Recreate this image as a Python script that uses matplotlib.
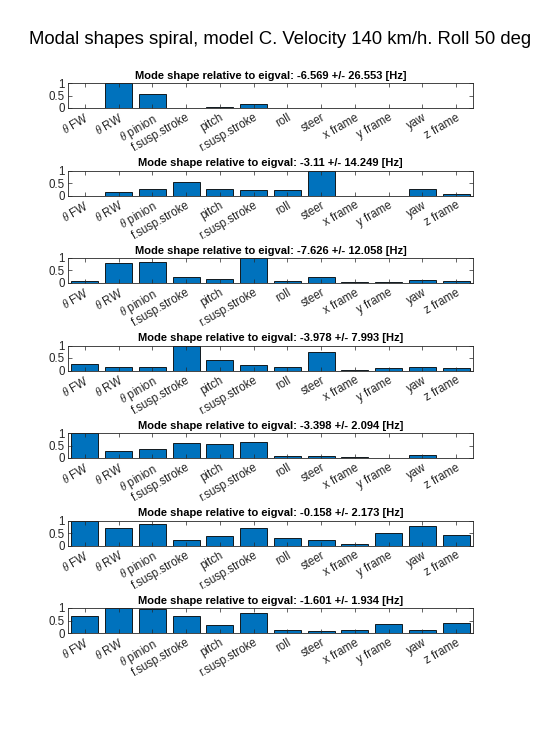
import numpy as np
import matplotlib
matplotlib.use("Agg")
import matplotlib.pyplot as plt

plt.rcParams['font.family'] = ['Liberation Sans', 'DejaVu Sans']
plt.rcParams['mathtext.fontset'] = 'custom'
plt.rcParams['mathtext.it'] = 'Liberation Serif:italic'

etiketter = [r'$\theta$ FW', r'$\theta$ RW', r'$\theta$ pinion', 'f.susp.stroke', 'pitch',
             'r.susp.stroke', 'roll', 'steer', 'x frame', 'y frame', 'yaw', 'z frame']

# egenvarden (real, imag) per mod
eig_re = ['-6.569', '-3.11', '-7.626', '-3.978', '-3.398', '-0.158', '-1.601']
eig_im = ['26.553', '14.249', '12.058', '7.993', '2.094', '2.173', '1.934']

mod1 = [0, 1, 0.56, 0, 0.04, 0.18, 0, 0, 0, 0, 0, 0]
mod2 = [0, 0.15, 0.28, 0.56, 0.28, 0.21, 0.24, 1, 0, 0, 0.28, 0.08]
mod3 = [0.08, 0.79, 0.82, 0.22, 0.15, 1, 0.08, 0.22, 0.04, 0.04, 0.12, 0.08]
mod4 = [0.25, 0.14, 0.14, 1, 0.41, 0.22, 0.15, 0.75, 0.04, 0.11, 0.15, 0.11]
mod5 = [1, 0.29, 0.34, 0.6, 0.58, 0.64, 0.08, 0.08, 0.04, 0, 0.12, 0]
mod6 = [1, 0.71, 0.85, 0.23, 0.37, 0.71, 0.31, 0.23, 0.05, 0.51, 0.77, 0.41]
mod7 = [0.67, 1, 0.97, 0.67, 0.34, 0.79, 0.14, 0.08, 0.11, 0.38, 0.14, 0.41]
moder = [mod1, mod2, mod3, mod4, mod5, mod6, mod7]

W, H = 560, 741
fig = plt.figure(figsize=(W/100, H/100), dpi=100)
fig.text(0.5, 1-40/H, 'Modal shapes spiral, model C. Velocity 140 km/h. Roll 50 deg',
         ha='center', va='center', fontsize=13.3)

x = np.arange(1, 13)
for k, m in enumerate(moder):
    topp = 83 + 87.5*k
    ax = fig.add_axes([68/W, 1-(topp+25)/H, 405/W, 25/H])
    ax.bar(x, m, width=0.8, color='#0072BD', edgecolor='black', linewidth=0.6)
    ax.set_xlim(0.5, 12.5)
    ax.set_ylim(0, 1)
    ax.set_yticks([0, 0.5, 1])
    ax.set_yticklabels(['0', '0.5', '1'])
    ax.set_xticks(x)
    ax.set_xticklabels(etiketter, rotation=30, ha='right', rotation_mode='anchor')
    ax.tick_params(direction='in', top=True, right=True, length=3, width=0.5,
                   labelsize=8.3, colors='#262626', pad=2.5)
    for s in ax.spines.values():
        s.set_linewidth(0.6)
        s.set_color('#262626')
    ax.set_title('Mode shape relative to eigval: %s +/- %s [Hz]' % (eig_re[k], eig_im[k]),
                 fontsize=8, fontweight='bold', pad=3)

plt.savefig('out.png', dpi=100)
